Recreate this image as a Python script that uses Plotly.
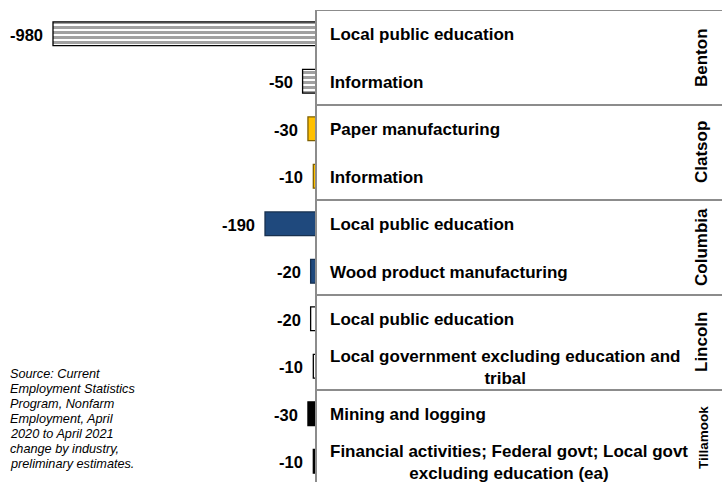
import plotly.graph_objects as go

counties = ["Benton", "Clatsop", "Columbia", "Lincoln", "Tillamook"]
industries = [
    "Local public education",
    "Information",
    "Paper manufacturing",
    "Information",
    "Local public education",
    "Wood product manufacturing",
    "Local public education",
    "Local government excluding education and<br>tribal",
    "Mining and logging",
    "Financial activities; Federal govt; Local govt<br>excluding education (ea)",
]
changes = [-980, -50, -30, -10, -190, -20, -20, -10, -30, -10]
row_county = ["Benton", "Benton", "Clatsop", "Clatsop", "Columbia", "Columbia",
              "Lincoln", "Lincoln", "Tillamook", "Tillamook"]
source_lines = [
    "Source: Current",
    "Employment Statistics",
    "Program, Nonfarm",
    "Employment, April",
    "2020 to April 2021",
    "change by industry,",
    "preliminary estimates.",
]

fill = {"Benton": "white", "Clatsop": "#FFC000", "Columbia": "#1F497D",
        "Lincoln": "white", "Tillamook": "black"}
edge = {"Benton": "black", "Clatsop": "#7F6000", "Columbia": "#17304f",
        "Lincoln": "black", "Tillamook": "black"}

FONT = "Arial, Liberation Sans, sans-serif"
W, H, TOP = 722, 482, 10
rows = list(range(len(changes)))

fig = go.Figure(go.Bar(
    x=changes, y=rows, orientation="h", width=0.5,
    marker=dict(
        color=[fill[c] for c in row_county],
        line=dict(color=[edge[c] for c in row_county], width=1.3),
        pattern=dict(
            shape=["-" if c == "Benton" else "" for c in row_county],
            fgcolor="black", bgcolor="white", size=5, solidity=0.6,
        ),
    ),
    hoverinfo="skip",
))

ann = []
for i, v in enumerate(changes):
    ann.append(dict(x=v, y=i, text=f"<b>{v}</b>", xanchor="right", xshift=-8, yshift=-1,
                    showarrow=False, font=dict(size=16.5, color="black", family=FONT)))
    ann.append(dict(x=0, y=i, text=f"<b>{industries[i]}</b>", xanchor="left", xshift=12,
                    yshift=-1, align="center", showarrow=False,
                    font=dict(size=17, color="black", family=FONT)))

for k, c in enumerate(counties):
    ann.append(dict(xref="paper", x=713 / W, y=2 * k + 0.5, text=f"<b>{c}</b>",
                    textangle=-90, showarrow=False,
                    font=dict(size=13.5 if c == "Tillamook" else 17, color="black", family=FONT)))

for j, line in enumerate(source_lines):
    py = 374 + 15 * j
    ann.append(dict(xref="paper", yref="paper", x=8 / W, y=1 - (py - TOP) / (H - TOP),
                    text=f"<i>{line}</i>", xanchor="left", yanchor="middle", showarrow=False,
                    font=dict(size=12.7, color="black", family=FONT)))

shapes = [dict(type="line", xref="x", yref="paper", x0=0, x1=0, y0=0, y1=1,
               line=dict(color="#8c8c8c", width=2))]
for yb in [-0.5, 1.5, 3.5, 5.5, 7.5]:
    shapes.append(dict(type="line", xref="x", yref="y", x0=0, x1=1600, y0=yb, y1=yb,
                       line=dict(color="#8c8c8c", width=2)))

px_per_unit = 263 / 980
xmin = -316 / px_per_unit
xmax = xmin + W / px_per_unit
units = (H - TOP) / 47.5

fig.update_layout(
    width=W, height=H,
    margin=dict(l=0, r=0, t=TOP, b=0),
    paper_bgcolor="white", plot_bgcolor="white",
    showlegend=False,
    xaxis=dict(visible=False, range=[xmin, xmax], fixedrange=True),
    yaxis=dict(visible=False, range=[-0.5 + units, -0.5], fixedrange=True),
    annotations=ann, shapes=shapes,
    font=dict(family=FONT),
)

fig.write_html("out.html", config={"displayModeBar": False},
               post_script="document.body.style.margin='0';document.body.style.overflow='hidden';")
